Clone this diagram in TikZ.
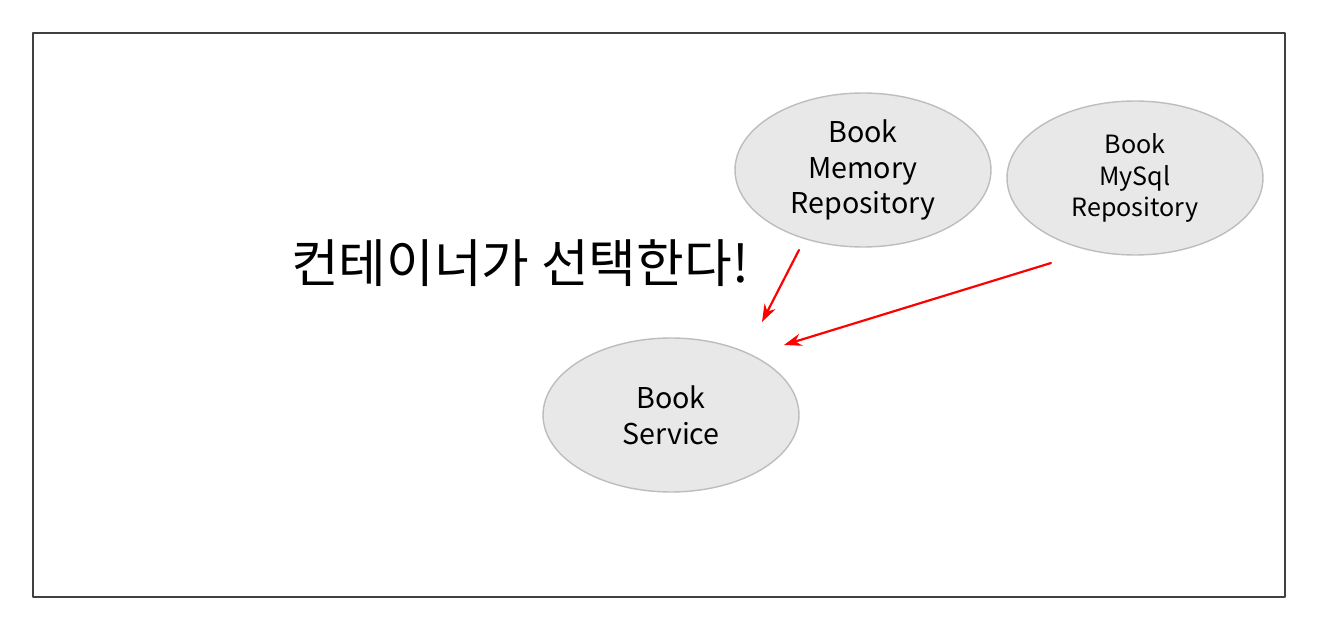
\documentclass[tikz,border=0pt]{standalone}
\usepackage{fontspec}
\setmainfont{Noto Sans CJK KR}
\usetikzlibrary{shapes.geometric,arrows.meta}
\definecolor{bubble}{HTML}{E8E8E8}
\definecolor{rim}{HTML}{BDBDBD}
\begin{document}
\begin{tikzpicture}[x=0.02cm, y=-0.02cm, line join=round, line cap=round,
	bean/.style={ellipse, draw=rim, line width=0.8pt, fill=bubble, inner sep=0pt,
		minimum width=5.12cm, minimum height=3.08cm, align=center,
		font=\fontsize{16.3}{20.4}\selectfont},
	pick/.style={draw=red, line width=1.25pt, -{Stealth[length=10pt, width=7pt]}}]
	\useasboundingbox (0,0) rectangle (1320,635);
	\draw[line width=1.2pt, color=black!75] (33,33) rectangle (1285,597);
	\node[bean] (mem) at (863,170) {Book\\Memory\\Repository};
	\node[bean, font=\fontsize{14.3}{18}\selectfont] (mysql) at (1135,178) {Book\\MySql\\Repository};
	\node[bean] (svc) at (671,415) {Book\\Service};
	\node[font=\fontsize{29.5}{32}\selectfont] (title) at (520,263) {컨테이너가 선택한다!};
	\coordinate (memtail) at (799,250);
	\coordinate (memhead) at (762,322);
	\coordinate (mysqltail) at (1051,263);
	\coordinate (mysqlhead) at (784,345);
	\draw[pick] (memtail) -- (memhead);
	\draw[pick] (mysqltail) -- (mysqlhead);
\end{tikzpicture}
\end{document}
